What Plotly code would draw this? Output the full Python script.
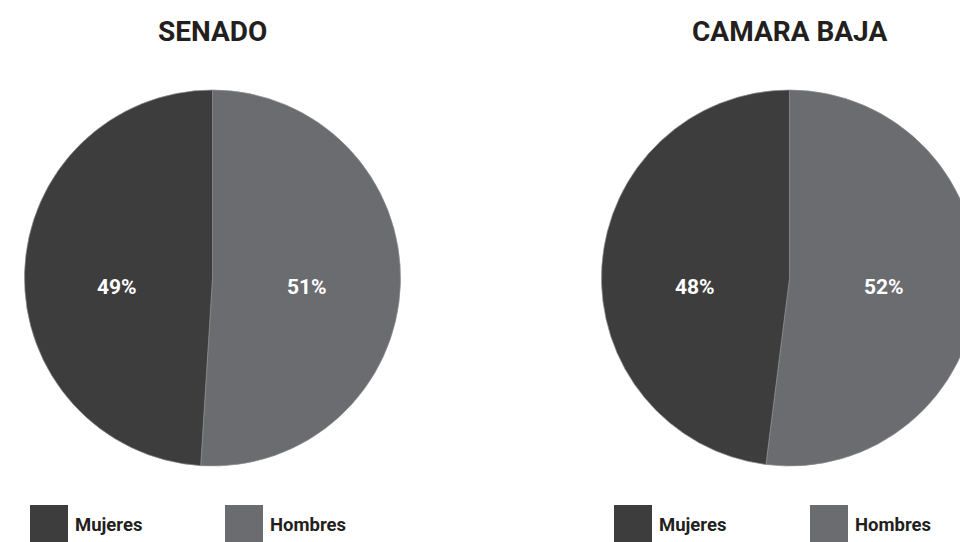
import plotly.graph_objects as go

# Composition by gender of each chamber (percent)
chambers = ["SENADO", "CAMARA BAJA"]
groups = ["Hombres", "Mujeres"]
senado_pct = [51, 49]
camara_pct = [52, 48]
legend_labels = ["Mujeres", "Hombres"]

COLORS = {"Mujeres": "#3d3d3d", "Hombres": "#6b6c70"}
FONT = "Roboto"
INK = "#231f20"

W, H = 980, 542


def px_x(v):
    return v / W


def px_y(v):
    return 1 - v / H


fig = go.Figure()

annotations = []
shapes = []

# pie discs: left/right pixel bounds of each chamber's circle
pie_bounds = [(24, 401), (601, 978)]
# horizontal anchor of the percentage label for each slice (groups order)
label_x = [[307, 117], [884, 695]]
for name, values, (x0, x1), lx in zip(chambers, [senado_pct, camara_pct], pie_bounds, label_x):
    fig.add_trace(go.Pie(
        labels=groups,
        values=values,
        name=name,
        sort=False,
        direction="clockwise",
        rotation=0,
        domain=dict(x=[px_x(x0), px_x(x1)], y=[px_y(466), px_y(90)]),
        marker=dict(colors=[COLORS[g] for g in groups],
                    line=dict(color="#8c8c8e", width=0.7)),
        textinfo="none",
        hoverinfo="label+value",
        showlegend=False,
    ))
    for v, x in zip(values, lx):
        annotations.append(dict(
            text=f"{v}%", x=px_x(x), y=px_y(287), xref="paper", yref="paper",
            xanchor="center", yanchor="middle", showarrow=False,
            font=dict(family=FONT, size=21, color="white", weight="bold"),
        ))

title_x = [212, 789]
for name, cx in zip(chambers, title_x):
    annotations.append(dict(
        text=name, x=px_x(cx), y=px_y(32), xref="paper", yref="paper",
        xanchor="center", yanchor="middle", showarrow=False,
        font=dict(family=FONT, size=28, color=INK, weight="bold"),
    ))

# legend swatches and labels under each pie
legend_swatch_x = [[30, 225], [614, 810]]
for swatch_row in legend_swatch_x:
    for label, sx in zip(legend_labels, swatch_row):
        shapes.append(dict(
            type="rect", xref="paper", yref="paper",
            x0=px_x(sx), x1=px_x(sx + 38), y0=px_y(544), y1=px_y(505),
            fillcolor=COLORS[label], line=dict(width=0), layer="above",
        ))
        annotations.append(dict(
            text=label, x=px_x(sx + 43), y=px_y(525), xref="paper", yref="paper",
            xanchor="left", yanchor="middle", showarrow=False,
            font=dict(family=FONT, size=18.5, color=INK, weight="bold"),
        ))

fig.update_layout(
    width=W, height=H,
    margin=dict(l=0, r=0, t=0, b=0),
    paper_bgcolor="white",
    plot_bgcolor="white",
    annotations=annotations,
    shapes=shapes,
)

fig.write_html(
    "out.html",
    post_script="document.documentElement.style.overflow='hidden';"
                "document.body.style.overflow='hidden';document.body.style.margin='0';",
)
